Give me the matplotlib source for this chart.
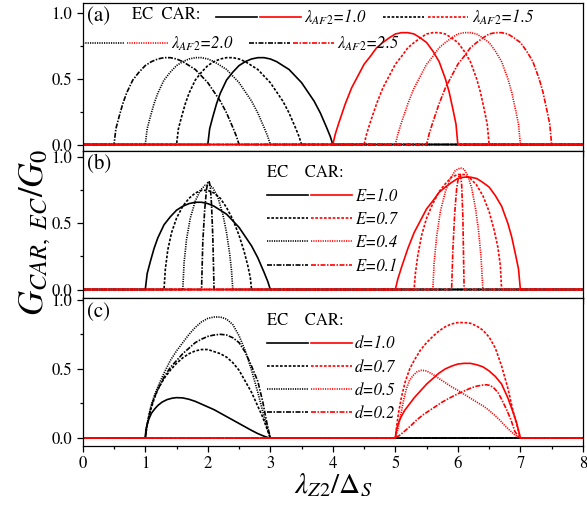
import matplotlib
matplotlib.use("Agg")
import matplotlib.pyplot as plt
from matplotlib.legend_handler import HandlerTuple
from matplotlib.ticker import MultipleLocator, FormatStrFormatter

plt.rcParams['font.family'] = ['STIXGeneral', 'DejaVu Serif']
plt.rcParams['mathtext.fontset'] = 'stix'

X_MAX = 8.0

# ---------------- panel (a): varying lambda_AF2 ----------------
lam_af2 = [1.0, 1.5, 2.0, 2.5]
ec_onset_a = [2.0, 1.5, 1.0, 0.5]
car_onset_a = [4.0, 4.5, 5.0, 5.5]
# one conductance window, x measured from its onset
win_x_ec = [0, 0.03, 0.08, 0.14, 0.2, 0.3, 0.4, 0.5, 0.6, 0.7, 0.8, 0.9, 1.0,
            1.1, 1.2, 1.3, 1.4, 1.5, 1.6, 1.7, 1.8, 1.9, 1.96, 2.0]
win_g_ec = [0, 0.12, 0.21, 0.31, 0.39, 0.49, 0.55, 0.60, 0.63, 0.65, 0.66, 0.66, 0.65,
            0.63, 0.60, 0.57, 0.52, 0.47, 0.40, 0.33, 0.24, 0.13, 0.06, 0]
win_x_car = [0, 0.04, 0.1, 0.2, 0.3, 0.4, 0.5, 0.6, 0.7, 0.8, 0.9, 1.0,
             1.1, 1.2, 1.3, 1.4, 1.5, 1.6, 1.7, 1.8, 1.86, 1.92, 1.97, 2.0]
win_g_car = [0, 0.08, 0.17, 0.31, 0.43, 0.52, 0.61, 0.67, 0.735, 0.775, 0.81, 0.84,
             0.85, 0.85, 0.84, 0.81, 0.775, 0.71, 0.63, 0.50, 0.40, 0.27, 0.155, 0]

# ---------------- panel (b): varying E ----------------
E_vals = [1.0, 0.7, 0.4, 0.1]
ec_onset_b = 1.0   # window of the E=1.0 curves
car_onset_b = 5.0
b_ec_x = [
    None,
    [1.3, 1.32, 1.36, 1.42, 1.5, 1.6, 1.7, 1.8, 1.9, 2.0, 2.1, 2.2, 2.3, 2.4, 2.5, 2.58, 2.64, 2.68, 2.7],
    [1.6, 1.62, 1.66, 1.72, 1.8, 1.88, 1.96, 2.02, 2.08, 2.16, 2.24, 2.3, 2.35, 2.38, 2.4],
    [1.9, 1.92, 1.95, 1.98, 2.0, 2.02, 2.04, 2.06, 2.08, 2.1],
]
b_ec_g = [
    None,
    [0, 0.15, 0.30, 0.43, 0.54, 0.63, 0.69, 0.73, 0.75, 0.75, 0.73, 0.69, 0.62, 0.53, 0.41, 0.29, 0.18, 0.09, 0],
    [0, 0.20, 0.38, 0.54, 0.67, 0.75, 0.79, 0.79, 0.77, 0.70, 0.57, 0.43, 0.27, 0.14, 0],
    [0, 0.36, 0.60, 0.76, 0.81, 0.82, 0.78, 0.64, 0.40, 0],
]
b_car_x = [
    None,
    [5.3, 5.32, 5.36, 5.42, 5.5, 5.6, 5.7, 5.8, 5.9, 6.0, 6.1, 6.2, 6.3, 6.4, 6.5, 6.58, 6.64, 6.68, 6.7],
    [5.6, 5.62, 5.66, 5.72, 5.8, 5.88, 5.96, 6.04, 6.1, 6.16, 6.22, 6.28, 6.33, 6.37, 6.4],
    [5.9, 5.92, 5.95, 5.98, 6.01, 6.04, 6.06, 6.08, 6.1],
]
b_car_g = [
    None,
    [0, 0.12, 0.26, 0.41, 0.54, 0.65, 0.74, 0.80, 0.85, 0.87, 0.87, 0.84, 0.79, 0.71, 0.59, 0.45, 0.32, 0.18, 0],
    [0, 0.20, 0.40, 0.59, 0.74, 0.84, 0.90, 0.92, 0.91, 0.86, 0.77, 0.62, 0.45, 0.25, 0],
    [0, 0.30, 0.58, 0.76, 0.85, 0.87, 0.80, 0.55, 0],
]

# ---------------- panel (c): varying d ----------------
d_vals = [1.0, 0.7, 0.5, 0.2]
c_ec_x = [
    [1.0, 1.01, 1.03, 1.06, 1.1, 1.15, 1.2, 1.27, 1.35, 1.43, 1.5, 1.6, 1.7, 1.8, 1.9,
     2.0, 2.1, 2.2, 2.3, 2.4, 2.5, 2.6, 2.7, 2.8, 2.9, 2.95, 3.0],
    [1.0, 1.02, 1.05, 1.09, 1.14, 1.2, 1.3, 1.4, 1.5, 1.6, 1.7, 1.8, 1.9, 2.0, 2.1, 2.2,
     2.3, 2.4, 2.5, 2.6, 2.7, 2.8, 2.87, 2.92, 2.96, 3.0],
    [1.0, 1.02, 1.05, 1.09, 1.14, 1.2, 1.3, 1.4, 1.5, 1.6, 1.7, 1.8, 1.9, 2.0, 2.1, 2.2,
     2.3, 2.4, 2.5, 2.6, 2.7, 2.8, 2.88, 2.94, 3.0],
    [1.0, 1.02, 1.05, 1.09, 1.14, 1.2, 1.3, 1.4, 1.5, 1.6, 1.7, 1.8, 1.9, 2.0, 2.1, 2.2,
     2.3, 2.4, 2.5, 2.6, 2.7, 2.8, 2.88, 2.94, 3.0],
]
c_ec_g = [
    [0, 0.06, 0.10, 0.14, 0.18, 0.21, 0.235, 0.26, 0.278, 0.288, 0.292, 0.29, 0.28, 0.265,
     0.245, 0.225, 0.205, 0.18, 0.155, 0.13, 0.105, 0.08, 0.055, 0.032, 0.013, 0.005, 0],
    [0, 0.07, 0.14, 0.21, 0.28, 0.35, 0.43, 0.49, 0.54, 0.58, 0.61, 0.63, 0.64, 0.64, 0.625,
     0.61, 0.585, 0.545, 0.49, 0.41, 0.33, 0.23, 0.16, 0.10, 0.05, 0],
    [0, 0.07, 0.15, 0.23, 0.30, 0.37, 0.47, 0.56, 0.63, 0.69, 0.75, 0.80, 0.84, 0.865, 0.875,
     0.875, 0.86, 0.82, 0.74, 0.63, 0.49, 0.33, 0.19, 0.09, 0],
    [0, 0.07, 0.14, 0.22, 0.29, 0.35, 0.44, 0.51, 0.56, 0.61, 0.65, 0.69, 0.715, 0.735, 0.745,
     0.75, 0.745, 0.725, 0.69, 0.62, 0.52, 0.41, 0.26, 0.12, 0],
]
c_car_x = [
    [5.0, 5.01, 5.03, 5.06, 5.1, 5.15, 5.2, 5.3, 5.4, 5.5, 5.6, 5.7, 5.8, 5.9, 6.0, 6.1,
     6.2, 6.3, 6.4, 6.5, 6.6, 6.7, 6.8, 6.88, 6.94, 7.0],
    [5.0, 5.02, 5.05, 5.1, 5.16, 5.23, 5.3, 5.4, 5.5, 5.6, 5.7, 5.8, 5.9, 6.0, 6.1, 6.2,
     6.3, 6.4, 6.5, 6.6, 6.7, 6.8, 6.88, 6.94, 7.0],
    [5.0, 5.04, 5.07, 5.1, 5.14, 5.18, 5.23, 5.29, 5.35, 5.42, 5.5, 5.6, 5.7, 5.8, 5.9, 6.0,
     6.14, 6.3, 6.41, 6.5, 6.6, 6.67, 6.75, 6.82, 6.89, 6.95, 7.0],
    [5.0, 5.07, 5.15, 5.25, 5.34, 5.45, 5.55, 5.65, 5.75, 5.87, 6.0, 6.1, 6.2, 6.3, 6.4,
     6.46, 6.52, 6.58, 6.64, 6.7, 6.78, 6.85, 6.91, 6.96, 7.0],
]
c_car_g = [
    [0, 0.04, 0.08, 0.12, 0.16, 0.20, 0.23, 0.29, 0.34, 0.39, 0.43, 0.47, 0.50, 0.52, 0.535,
     0.54, 0.54, 0.53, 0.515, 0.485, 0.445, 0.39, 0.29, 0.19, 0.11, 0],
    [0, 0.08, 0.18, 0.30, 0.41, 0.50, 0.56, 0.635, 0.69, 0.735, 0.775, 0.805, 0.825, 0.835,
     0.835, 0.83, 0.81, 0.78, 0.73, 0.65, 0.52, 0.36, 0.20, 0.10, 0],
    [0, 0.06, 0.13, 0.20, 0.29, 0.36, 0.42, 0.455, 0.48, 0.49, 0.485, 0.46, 0.43, 0.40, 0.37,
     0.345, 0.305, 0.26, 0.23, 0.20, 0.16, 0.13, 0.09, 0.06, 0.03, 0.01, 0],
    [0, 0.02, 0.05, 0.09, 0.13, 0.17, 0.20, 0.23, 0.26, 0.29, 0.32, 0.34, 0.36, 0.375, 0.383,
     0.385, 0.38, 0.36, 0.33, 0.28, 0.205, 0.13, 0.05, 0.015, 0],
]

# ---------------- styling ----------------
LW = 1.2
styles = ['-', (0, (1.6, 1.0)), (0, (0.7, 0.7)), (0, (3.0, 0.9, 0.9, 0.9))]
EC_COLOR = 'black'
CAR_COLOR = 'red'
FS = 12


def padded(x, g):
    """Extend a curve with zero conductance out to both ends of the x range."""
    xs, gs = list(x), list(g)
    if xs[0] > 0:
        xs = [0.0] + xs
        gs = [0.0] + gs
    if xs[-1] < X_MAX:
        xs = xs + [X_MAX]
        gs = gs + [0.0]
    return xs, gs


def shifted(onset, rel):
    return [onset + v for v in rel]


def draw_panel(ax, ec_xs, ec_gs, car_xs, car_gs):
    ec_lines, car_lines = [], []
    for x, g, ls in zip(ec_xs, ec_gs, styles):
        xs, gs = padded(x, g)
        ln, = ax.plot(xs, gs, color=EC_COLOR, lw=LW, ls=ls)
        ec_lines.append(ln)
    for x, g, ls in zip(car_xs, car_gs, styles):
        xs, gs = padded(x, g)
        ln, = ax.plot(xs, gs, color=CAR_COLOR, lw=LW, ls=ls)
        car_lines.append(ln)
    return ec_lines, car_lines


# the E=1.0 curves share the window shape of panel (a)
b_ec_x[0], b_ec_g[0] = shifted(ec_onset_b, win_x_ec), win_g_ec
b_car_x[0], b_car_g[0] = shifted(car_onset_b, win_x_car), win_g_car

fig = plt.figure(figsize=(5.87, 5.08), dpi=100)
grid = fig.add_gridspec(3, 1, hspace=0, left=0.141, right=0.993, top=0.994, bottom=0.122)
axes = [fig.add_subplot(grid[i]) for i in range(3)]
ax_a, ax_b, ax_c = axes

a_ec_x = [shifted(o, win_x_ec) for o in ec_onset_a]
a_car_x = [shifted(o, win_x_car) for o in car_onset_a]
ec_a, car_a = draw_panel(ax_a, a_ec_x, [win_g_ec] * 4, a_car_x, [win_g_car] * 4)
ec_b, car_b = draw_panel(ax_b, b_ec_x, b_ec_g, b_car_x, b_car_g)
ec_c, car_c = draw_panel(ax_c, c_ec_x, c_ec_g, c_car_x, c_car_g)

ylims = [(-0.047, 1.075), (-0.067, 1.05), (-0.058, 1.01)]
for ax, lim, tag in zip(axes, ylims, ['(a)', '(b)', '(c)']):
    ax.set_xlim(0, X_MAX)
    ax.set_ylim(*lim)
    ax.xaxis.set_major_locator(MultipleLocator(1))
    ax.xaxis.set_minor_locator(MultipleLocator(0.5))
    ax.yaxis.set_major_locator(MultipleLocator(0.5))
    ax.yaxis.set_minor_locator(MultipleLocator(0.25))
    ax.yaxis.set_major_formatter(FormatStrFormatter('%.1f'))
    ax.tick_params(which='both', direction='out', top=False, right=False,
                   labelsize=FS, width=0.9, colors='black')
    ax.tick_params(which='major', length=4)
    ax.tick_params(which='minor', length=2.5)
    for sp in ax.spines.values():
        sp.set_linewidth(0.9)
    ax.text(0.008, 0.975, tag, transform=ax.transAxes, fontsize=15,
            ha='left', va='top')
    if ax is not ax_c:
        ax.tick_params(labelbottom=False)

handler = {tuple: HandlerTuple(ndivide=None, pad=0.2)}
label_prop = {'size': FS, 'style': 'italic'}

# legend of panel (a): two rows
lam_labels = [r'$\lambda_{\mathit{AF2}}$=%.1f' % v for v in lam_af2]
ax_a.text(0.098, 0.918, 'EC  CAR:', transform=ax_a.transAxes, fontsize=FS,
          ha='left', va='center')
leg1 = ax_a.legend([(ec_a[0], car_a[0]), (ec_a[1], car_a[1])], lam_labels[:2],
                   handler_map=handler, ncol=2, frameon=False, prop=label_prop,
                   handlelength=5.1, handletextpad=0.2, columnspacing=1.0,
                   loc='center left', bbox_to_anchor=(0.266, 0.905),
                   borderpad=0, borderaxespad=0)
ax_a.add_artist(leg1)
ax_a.legend([(ec_a[2], car_a[2]), (ec_a[3], car_a[3])], lam_labels[2:],
            handler_map=handler, ncol=2, frameon=False, prop=label_prop,
            handlelength=5.1, handletextpad=0.2, columnspacing=0.9,
            loc='center left', bbox_to_anchor=(0.0, 0.725),
            borderpad=0, borderaxespad=0)

# legends of panels (b) and (c)
E_labels = ['E=%.1f' % v for v in E_vals]
d_labels = ['d=%.1f' % v for v in d_vals]
for ax, ecl, carl, labels in [(ax_b, ec_b, car_b, E_labels), (ax_c, ec_c, car_c, d_labels)]:
    ax.legend(list(zip(ecl, carl)), labels, handler_map=handler, frameon=False,
              prop=label_prop, title='EC    CAR:', title_fontproperties={'size': FS},
              alignment='left', handlelength=5.1, handletextpad=0.2,
              labelspacing=0.39, loc='upper left', bbox_to_anchor=(0.368, 0.9),
              borderpad=0, borderaxespad=0)

fig.text(35 / 587, 1 - 232 / 508, r'$G_{CAR,\ EC}/G_0$', rotation=90,
         fontsize=25, ha='center', va='center')
fig.text(333 / 587, 1 - 486 / 508, r'$\lambda_{\mathit{Z2}}/\mathit{\Delta}_{S}$',
         fontsize=21, ha='center', va='center')

fig.savefig('out.png', dpi=100)
